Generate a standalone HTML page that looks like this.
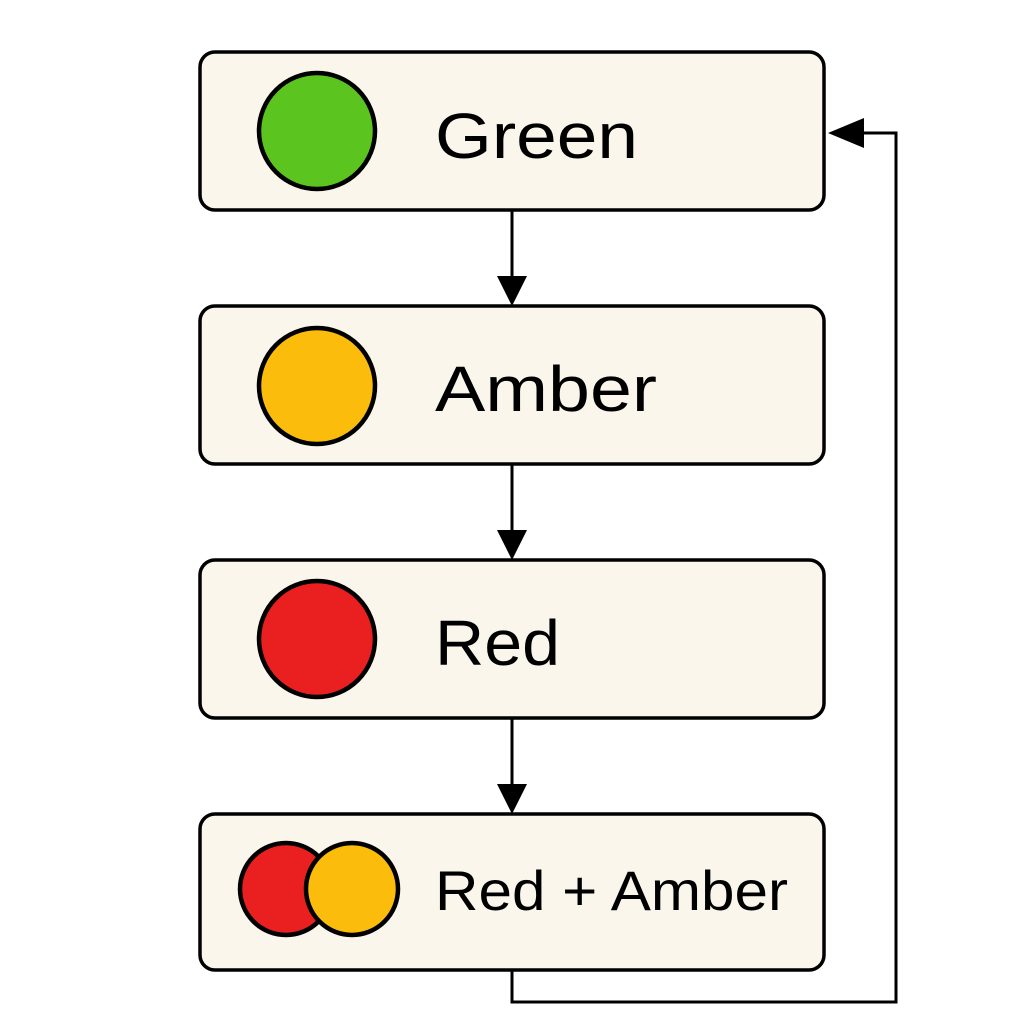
<!DOCTYPE html>
<html><head><meta charset="utf-8"><style>html,body{margin:0;padding:0;background:#fff}</style></head>
<body>
<svg width="1024" height="1024" viewBox="0 0 1024 1024" xmlns="http://www.w3.org/2000/svg">
<g fill="#fbf6ec" stroke="#000" stroke-width="3.5">
<rect x="200" y="52" width="624" height="158" rx="15"/>
<rect x="200" y="306" width="624" height="158" rx="15"/>
<rect x="200" y="560" width="624" height="158" rx="15"/>
<rect x="200" y="814" width="624" height="156" rx="15"/>
</g>
<g stroke="#000" stroke-width="4.5">
<circle cx="317" cy="131" r="58" fill="#5cc41e"/>
<circle cx="317" cy="386" r="58" fill="#fbbc0c"/>
<circle cx="317" cy="639" r="58" fill="#ea1f1f"/>
<circle cx="286" cy="889" r="46" fill="#ea1f1f"/>
<circle cx="352" cy="889" r="46" fill="#fbbc0c"/>
</g>
<g stroke="#000" stroke-width="3" fill="none">
<line x1="512" y1="210" x2="512" y2="280"/>
<line x1="512" y1="464" x2="512" y2="534"/>
<line x1="512" y1="718" x2="512" y2="788"/>
<polyline points="512,970 512,1002 896,1002 896,133 860,133"/>
</g>
<g fill="#000">
<polygon points="497,276 527,276 512,306"/>
<polygon points="497,530 527,530 512,560"/>
<polygon points="497,784 527,784 512,814"/>
<polygon points="828,133 864,118 864,148"/>
</g>
<g font-family="Liberation Sans, sans-serif" fill="#000">
<text x="435" y="158" font-size="64" textLength="203" lengthAdjust="spacingAndGlyphs">Green</text>
<text x="435" y="411" font-size="64" textLength="222" lengthAdjust="spacingAndGlyphs">Amber</text>
<text x="435" y="665" font-size="64" textLength="125" lengthAdjust="spacingAndGlyphs">Red</text>
<text x="435" y="910" font-size="56" textLength="353" lengthAdjust="spacingAndGlyphs">Red + Amber</text>
</g>
</svg>
</body></html>
